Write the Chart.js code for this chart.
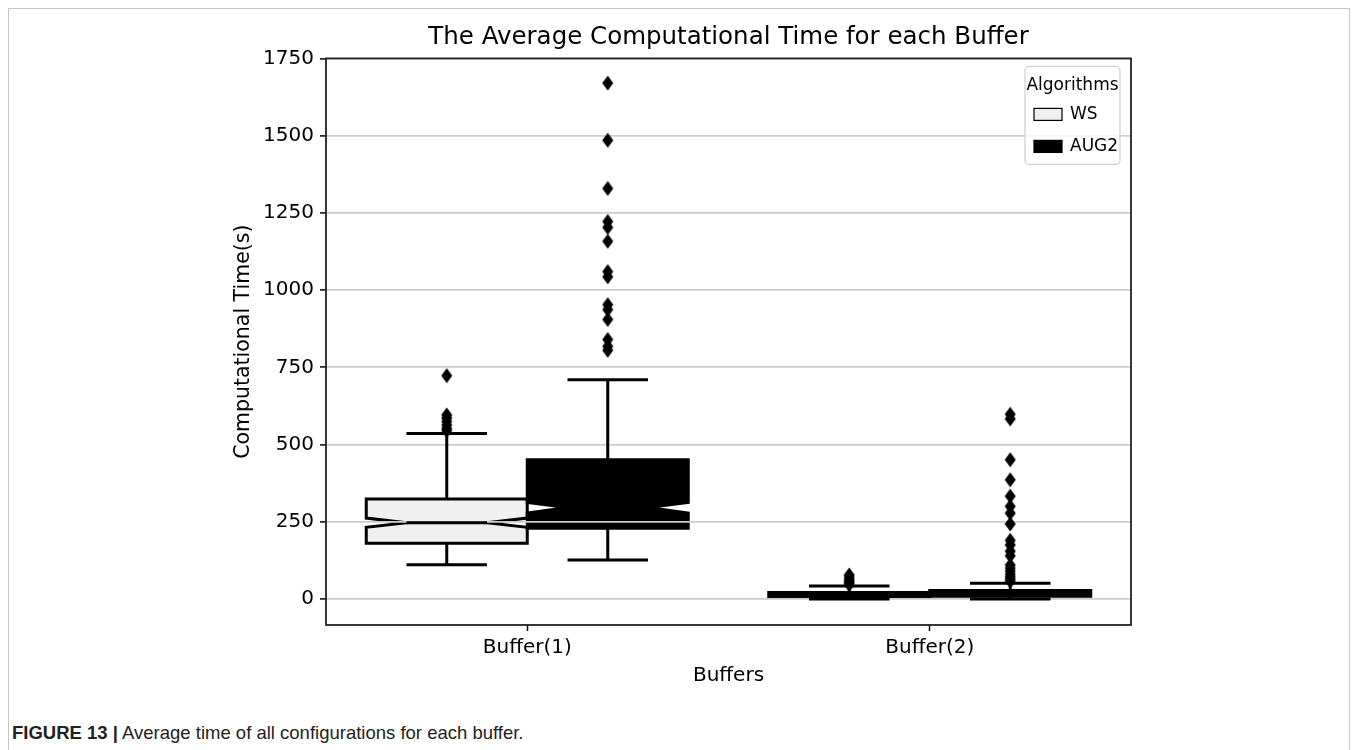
<!DOCTYPE html>
<html>
<head>
<meta charset="utf-8">
<script src="https://cdn.jsdelivr.net/npm/chart.js@4.4.1/dist/chart.umd.min.js"></script>
<style>
  html, body { margin: 0; padding: 0; background: #fff; }
  body { width: 1357px; height: 750px; position: relative; overflow: hidden; }
  #frame { position: absolute; left: 8px; top: 8px; width: 1340px; height: 780px; border: 1px solid #c4c4c4; }
  #wrap { position: absolute; left: 230px; top: 0; width: 997px; height: 700px; }
  #caption { position: absolute; left: 12px; top: 722px; font: 18.5px "Liberation Sans", Arial, sans-serif; color: #222; white-space: nowrap; }
</style>
</head>
<body>
<div id="frame"></div>
<div id="wrap"><canvas id="chart"></canvas></div>
<div id="caption"><b>FIGURE 13 |</b> Average time of all configurations for each buffer.</div>
<script>
// ---------- data ----------
const categories = ["Buffer(1)", "Buffer(2)"];
const algorithms = ["WS", "AUG2"];
const yTicks = [0, 250, 500, 750, 1000, 1250, 1500, 1750];

// WS
const wsLowWhisker  = [111, 0];
const wsQ1          = [181, 8];
const wsNotchLow    = [232, 11];
const wsMedian      = [247, 13];
const wsNotchHigh   = [262, 15];
const wsQ3          = [324, 21];
const wsHighWhisker = [536, 42];
const wsOutliers = [
  [723, 596, 586, 575, 563, 552, 545],
  [78, 70, 63, 57, 52, 47]
];

// AUG2
const augLowWhisker  = [126, 0];
const augQ1          = [229, 9];
const augNotchLow    = [278, 13];
const augMedian      = [296, 16];
const augNotchHigh   = [313, 19];
const augQ3          = [451, 28];
const augHighWhisker = [710, 51];
const augOutliers = [
  [1670, 1485, 1329, 1222, 1203, 1158, 1060, 1043, 953, 937, 905, 840, 818, 805],
  [598, 583, 451, 386, 333, 300, 278, 243, 190, 175, 155, 140, 110, 100, 90, 80, 72, 65, 58]
];

// ---------- groups (hue) ----------
const BOX_W = 0.4;
const groups = [
  { name: algorithms[0], offset: -0.2, fill: "#f0f0f0", lo: wsLowWhisker, q1: wsQ1, nlo: wsNotchLow,
    med: wsMedian, nhi: wsNotchHigh, q3: wsQ3, hi: wsHighWhisker, out: wsOutliers },
  { name: algorithms[1], offset: 0.2, fill: "#000000", lo: augLowWhisker, q1: augQ1, nlo: augNotchLow,
    med: augMedian, nhi: augNotchHigh, q3: augQ3, hi: augHighWhisker, out: augOutliers }
];

// thin diamond marker, like matplotlib "d"
function diamond() {
  const c = document.createElement("canvas");
  c.width = 12; c.height = 16;
  const g = c.getContext("2d");
  g.fillStyle = "#000";
  g.beginPath();
  g.moveTo(6, 0.5); g.lineTo(11.5, 8); g.lineTo(6, 15.5); g.lineTo(0.5, 8);
  g.closePath(); g.fill();
  return c;
}
const marker = diamond();

const FONT = "'DejaVu Sans', sans-serif";
const LW = 3;

// ---------- box drawing ----------
function eachBox(chart, fn) {
  const x = chart.scales.x, y = chart.scales.y;
  groups.forEach(g => g.q1.forEach((_, i) => {
    const c = i + g.offset;
    fn(g, i, {
      c: x.getPixelForValue(c),
      l: x.getPixelForValue(c - BOX_W / 2),
      r: x.getPixelForValue(c + BOX_W / 2),
      capL: x.getPixelForValue(c - BOX_W / 4),
      capR: x.getPixelForValue(c + BOX_W / 4),
      py: v => y.getPixelForValue(v)
    });
  }));
}

const boxPlugin = {
  id: "boxes",
  // boxes sit under the grid, as in matplotlib
  beforeDraw(chart) {
    const ctx = chart.ctx, a = chart.chartArea;
    ctx.save();
    ctx.beginPath(); ctx.rect(a.left, a.top, a.right - a.left, a.bottom - a.top); ctx.clip();
    eachBox(chart, (g, i, p) => {
      const n = (p.r - p.l) * 0.25;
      ctx.beginPath();
      ctx.moveTo(p.l, p.py(g.q1[i]));
      ctx.lineTo(p.l, p.py(g.nlo[i]));
      ctx.lineTo(p.l + n, p.py(g.med[i]));
      ctx.lineTo(p.l, p.py(g.nhi[i]));
      ctx.lineTo(p.l, p.py(g.q3[i]));
      ctx.lineTo(p.r, p.py(g.q3[i]));
      ctx.lineTo(p.r, p.py(g.nhi[i]));
      ctx.lineTo(p.r - n, p.py(g.med[i]));
      ctx.lineTo(p.r, p.py(g.nlo[i]));
      ctx.lineTo(p.r, p.py(g.q1[i]));
      ctx.closePath();
      ctx.fillStyle = g.fill;
      ctx.fill();
      ctx.lineWidth = LW;
      ctx.strokeStyle = "#000";
      ctx.lineJoin = "miter";
      ctx.stroke();
    });
    ctx.restore();
  },
  // whiskers, caps and medians above the grid
  beforeDatasetsDraw(chart) {
    const ctx = chart.ctx;
    ctx.save();
    ctx.strokeStyle = "#000";
    ctx.lineWidth = LW;
    ctx.lineCap = "butt";
    eachBox(chart, (g, i, p) => {
      const n = (p.r - p.l) * 0.25;
      ctx.beginPath();
      ctx.moveTo(p.c, p.py(g.q1[i])); ctx.lineTo(p.c, p.py(g.lo[i]));
      ctx.moveTo(p.c, p.py(g.q3[i])); ctx.lineTo(p.c, p.py(g.hi[i]));
      ctx.moveTo(p.capL, p.py(g.lo[i])); ctx.lineTo(p.capR, p.py(g.lo[i]));
      ctx.moveTo(p.capL, p.py(g.hi[i])); ctx.lineTo(p.capR, p.py(g.hi[i]));
      ctx.moveTo(p.l + n, p.py(g.med[i])); ctx.lineTo(p.r - n, p.py(g.med[i]));
      ctx.stroke();
    });
    ctx.restore();
  },
  afterDraw(chart) {
    const ctx = chart.ctx, a = chart.chartArea;
    ctx.save();
    // axes frame
    ctx.strokeStyle = "#222";
    ctx.lineWidth = 1.8;
    ctx.strokeRect(a.left, a.top, a.right - a.left, a.bottom - a.top);

    // legend inside the plot, top right
    const w = 95, h = 98;
    const lx = a.right - 11 - w, ly = a.top + 8;
    ctx.beginPath();
    ctx.roundRect(lx, ly, w, h, 4);
    ctx.fillStyle = "rgba(255,255,255,0.8)";
    ctx.fill();
    ctx.strokeStyle = "#d0d0d0";
    ctx.lineWidth = 1.2;
    ctx.stroke();

    ctx.fillStyle = "#000";
    ctx.font = "17px " + FONT;
    ctx.textBaseline = "middle";
    ctx.textAlign = "center";
    ctx.fillText("Algorithms", lx + w / 2, ly + 19);
    ctx.textAlign = "left";
    groups.forEach((g, k) => {
      const cy = ly + 48 + k * 32;
      ctx.fillStyle = g.fill;
      ctx.fillRect(lx + 9, cy - 6, 28, 12);
      ctx.strokeStyle = "#000";
      ctx.lineWidth = 1.2;
      ctx.strokeRect(lx + 9, cy - 6, 28, 12);
      ctx.fillStyle = "#000";
      ctx.fillText(g.name, lx + 45, cy);
    });
    ctx.restore();
  }
};

// ---------- outlier datasets ----------
const datasets = groups.map(g => ({
  label: g.name,
  data: g.out.flatMap((vals, i) => vals.map(v => ({ x: i + g.offset, y: v }))),
  pointStyle: marker,
  pointRadius: 6,
  showLine: false
}));

const ctx = document.getElementById("chart").getContext("2d");
new Chart(ctx, {
  type: "scatter",
  data: { datasets },
  plugins: [boxPlugin],
  options: {
    responsive: true,
    maintainAspectRatio: false,
    animation: false,
    layout: { padding: { left: 0, right: 96, top: 0, bottom: 0 } },
    plugins: {
      legend: { display: false },
      tooltip: { enabled: false },
      title: {
        display: true,
        fullSize: false,
        text: "The Average Computational Time for each Buffer",
        color: "#000",
        font: { family: FONT, size: 24.5, weight: "normal" },
        padding: { top: 23, bottom: 6 }
      }
    },
    scales: {
      x: {
        type: "linear",
        min: -0.5,
        max: 1.5,
        afterBuildTicks: s => { s.ticks = categories.map((_, i) => ({ value: i })); },
        afterFit: s => { s.height = 75; },
        ticks: {
          color: "#000",
          font: { family: FONT, size: 20 },
          padding: 5,
          callback: v => categories[v]
        },
        grid: { drawOnChartArea: false, drawTicks: true, tickLength: 6, tickColor: "#000", tickWidth: 1.5 },
        border: { display: false },
        title: {
          display: true,
          text: "Buffers",
          color: "#000",
          font: { family: FONT, size: 20 },
          padding: { top: 0, bottom: 12 }
        }
      },
      y: {
        min: -84,
        max: 1750,
        afterBuildTicks: s => { s.ticks = yTicks.map(v => ({ value: v })); },
        afterFit: s => { s.width = 96; },
        ticks: {
          color: "#000",
          font: { family: FONT, size: 20 },
          padding: 6,
          callback: v => String(v)
        },
        grid: { color: "#cccccc", lineWidth: 1.8, tickLength: 6, tickColor: "#000", tickWidth: 1.5 },
        border: { display: false },
        title: {
          display: true,
          text: "Computational Time(s)",
          color: "#000",
          font: { family: FONT, size: 20.5 },
          padding: { top: 1, bottom: 0 }
        }
      }
    }
  }
});
</script>
</body>
</html>
